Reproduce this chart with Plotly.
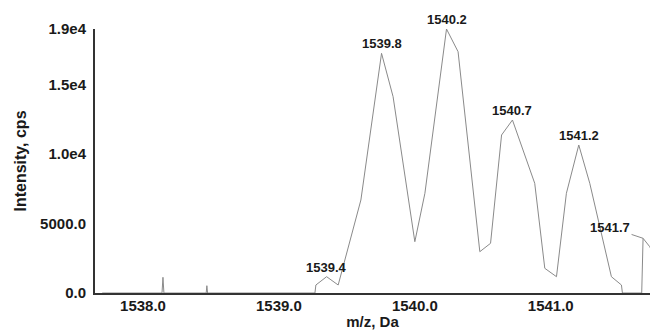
import plotly.graph_objects as go

# Profile trace of the isotope cluster (m/z in Da, intensity in cps)
mz = [
    1537.70, 1538.14, 1538.147, 1538.154, 1538.465, 1538.47, 1538.475,
    1539.265, 1539.272, 1539.351, 1539.436, 1539.603, 1539.755, 1539.840,
    1540.000, 1540.074, 1540.233, 1540.318, 1540.478, 1540.557, 1540.638,
    1540.718, 1540.882, 1540.956, 1541.042, 1541.115, 1541.206, 1541.287,
    1541.446, 1541.520, 1541.527, 1541.669, 1541.679, 1541.728, 1541.780,
]
intensity = [
    0, 0, 1130, 0, 0, 525, 0,
    0, 576, 1173, 576, 6693, 17250, 14128,
    3692, 7175, 19000, 17366, 2972, 3577, 11371,
    12451, 7895, 1778, 1173, 7175, 10652, 7895,
    1173, 576, 0, 0, 3937, 3332, 2300,
]

# Labelled peak apexes
peak_mz = [1539.351, 1539.755, 1540.233, 1540.718, 1541.206, 1541.679]
peak_int = [1173, 17250, 19000, 12451, 10652, 3937]

x_ticks = [1538.0, 1539.0, 1540.0, 1541.0]
x_ticktext = ["1538.0", "1539.0", "1540.0", "1541.0"]
y_ticks = [0, 5000, 10000, 15000, 19000]
y_ticktext = ["0.0", "5000.0", "1.0e4", "1.5e4", "1.9e4"]

FONT = "Liberation Sans, Arial, sans-serif"
TEXT = "#1a1a1a"
AXIS = "#333333"

fig = go.Figure()
fig.add_trace(go.Scatter(
    x=mz, y=intensity, mode="lines",
    line=dict(color="#8a8a8a", width=1),
    hoverinfo="skip", showlegend=False,
))

# Peak labels; the last one sits left of its apex with a leader line
for i, (px, py) in enumerate(zip(peak_mz, peak_int)):
    label = f"{px:.1f}"
    if i == len(peak_mz) - 1:
        fig.add_annotation(
            x=px, y=py, text=label, showarrow=True,
            ax=-33, ay=-11, arrowhead=0, arrowwidth=1, arrowcolor="#8a8a8a",
            font=dict(family=FONT, size=13, color=TEXT, weight="bold"),
        )
    else:
        fig.add_annotation(
            x=px, y=py, text=label, showarrow=False,
            yanchor="bottom", yshift=0,
            font=dict(family=FONT, size=13, color=TEXT, weight="bold"),
        )

fig.update_layout(
    width=650, height=330,
    margin=dict(l=95, r=0, t=29, b=37),
    paper_bgcolor="white", plot_bgcolor="white",
    font=dict(family=FONT, color=TEXT),
    xaxis=dict(
        range=[1537.647, 1541.73],
        tickvals=x_ticks, ticktext=x_ticktext,
        showgrid=False, zeroline=False,
        showline=True, linecolor=AXIS, linewidth=2,
        ticks="", ticklabelstandoff=-2,
        tickfont=dict(family=FONT, size=15, color=TEXT, weight="bold"),
        title=dict(text="m/z, Da", standoff=6,
                   font=dict(family=FONT, size=15, color=TEXT, weight="bold")),
    ),
    yaxis=dict(
        range=[0, 19000],
        tickvals=y_ticks, ticktext=y_ticktext,
        showgrid=False, zeroline=False,
        showline=True, linecolor=AXIS, linewidth=2,
        ticks="", ticklabelstandoff=4,
        tickfont=dict(family=FONT, size=15, color=TEXT, weight="bold"),
        title=dict(text="Intensity, cps", standoff=10,
                   font=dict(family=FONT, size=16, color=TEXT, weight="bold")),
    ),
)

fig.write_html("out.html")
